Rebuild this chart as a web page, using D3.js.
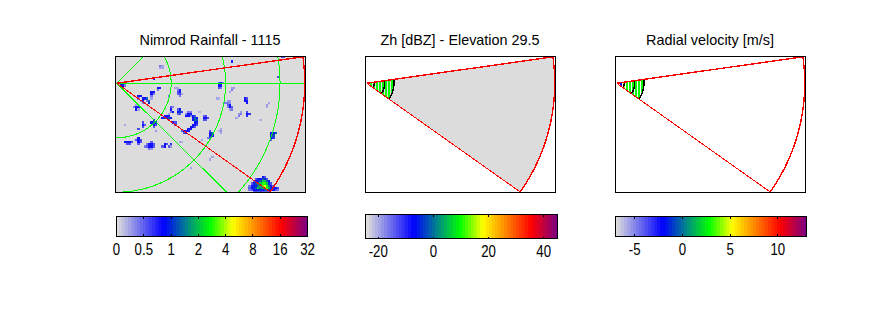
<!DOCTYPE html>
<html>
<head>
<meta charset="utf-8">
<script src="https://cdn.jsdelivr.net/npm/d3@7"></script>
<style>
	body { margin: 0; background: #fff; }
	svg { display: block; }
	text { font-family: "Liberation Sans", Arial, sans-serif; fill: #000; }
</style>
</head>
<body>
<div id="chart"></div>
<script>
// radar coverage, km from the radar
var maxRange = 172.7;
var sectorAngles = [8.1, -35.3];
var ringRanges = [50, 100, 150];
var spokeAngles = [-44.7, 0, 45.3];
var sweepRanges = [1.5, 7, 16.5, 25];

var titles = ["Nimrod Rainfall - 1115", "Zh [dBZ] - Elevation 29.5", "Radial velocity [m/s]"];

var rainTicks = [0, 0.5, 1, 2, 4, 8, 16, 32];
var zhTicks = [-20, 0, 20, 40];
var zhDomain = [-24.6, 45];
var velTicks = [-5, 0, 5, 10];
var velDomain = [-7, 13];

// one stripe per range bin of the sweep
var sweepX = [1, 3.8, 6.5, 9.3, 12, 14.8, 17.5, 20.3, 23];
var zhValues = [-24, 9.5, 9.5, 9.5, 9.5, 9.5, 9.5, 9.5, 9.5];
var velValues = [9.5, -2, 4.2, 2.8, 2.8, 2.8, 2.8, 2.8, 2.8];

// rainfall cells: x km, y km, mm/h
var rainCells = [
	[0,0,.25],[4,0,.25],[10,0,.25],[4,-2,.8],[6,-2,.8],[8,-2,.4],
	[20,-12,.8],[22,-12,.8],[24,-14,.8],[20,-14,.4],[26,-14,.8],[28,-14,1.3],[24,-16,.8],[28,-16,.4],[30,-16,1.3],[30,-18,1],[22,-16,.4],[24,-18,.4],[26,-18,.25],
	[18,-22,.8],[20,-22,.8],[18,-24,.8],[16,-22,.4],[20,-24,.25],[18,-20,.25],
	[32,-8,.8],[34,-8,.8],[32,-10,.8],[32,-12,.4],[34,-10,.4],[32,-14,.25],[38,-4,.8],[40,-4,.8],[38,-6,.4],
	[42,16,.25],[40,16,.4],[42,14,.25],[40,14,.25],[34,4,.8],[106,20,.8],[148,6,.6],[152,24,.6],[154,24,.6],[48,-12,.5],[54,-4,.25],
	[56,-6,.4],[58,-6,.8],[56,-8,.6],[58,-8,.8],[56,-10,.5],[58,-10,.6],[58,-12,.4],[56,-4,.25],[60,-10,.25],
	[94,-2,.8],[96,-2,.8],[94,0,.5],[96,0,.8],[98,0,.4],[94,-4,.6],[96,-4,.4],
	[106,-4,.25],[108,-4,.3],[106,-6,.4],[104,-8,.25],[92,-14,.25],[94,-14,.2],
	[102,-16,.3],[104,-16,.3],[100,-18,.4],[102,-18,.4],[104,-18,.3],[102,-20,.5],[104,-20,.8],[102,-22,.4],[104,-22,.8],[106,-22,.5],[106,-24,.4],[104,-24,.3],
	[118,-14,.8],[120,-14,.6],[118,-16,.8],[120,-16,.8],[120,-18,.8],
	[140,-18,.25],[138,-20,.3],[138,-22,.25],
	[120,-26,.6],[120,-28,.8],[122,-28,.7],[120,-30,.7],[114,-26,.25],[112,-28,.3],[114,-28,.4],[112,-30,.4],[110,-32,.25],
	[50,-22,.5],[52,-22,.4],[50,-24,.8],[50,-26,.4],[52,-26,.8],[48,-28,.25],
	[56,-24,.5],[58,-24,.8],[56,-26,.8],[58,-26,1.2],[60,-26,.7],[56,-28,.5],[58,-28,.6],
	[44,-30,.8],[46,-30,.8],[48,-30,.8],[42,-32,.8],[44,-32,1.2],[46,-32,.8],[48,-32,1.3],[50,-32,.8],[48,-34,.6],[52,-36,.8],[54,-36,.6],[54,-38,.5],
	[66,-28,.8],[68,-28,.8],[64,-30,.8],[66,-30,.8],[68,-30,.4],[70,-30,.8],[72,-30,.6],[70,-32,.8],[72,-32,1.3],[74,-32,.8],[70,-34,.8],[72,-34,1.5],[74,-34,1.2],
	[72,-36,.8],[74,-36,.8],[70,-38,.8],[72,-38,.8],[74,-38,.6],[68,-40,.8],[70,-40,.8],[72,-40,.5],[66,-42,.8],[68,-42,.8],[62,-44,.8],[64,-44,.8],[66,-44,.8],
	[62,-46,.6],[64,-46,.8],[60,-44,.5],[68,-26,.4],[64,-28,.4],[66,-26,.4],
	[80,-30,.5],[82,-30,.6],[80,-32,.8],[82,-32,.8],[84,-32,.6],[80,-34,.6],[82,-34,.5],[76,-26,.2],
	[34,-34,.8],[32,-36,.8],[34,-36,1.5],[36,-36,.8],[34,-38,.8],[36,-38,.6],[34,-40,.5],
	[24,-36,.6],[24,-38,.8],[26,-38,.5],[24,-40,.6],[8,-38,.25],[20,-42,.6],[36,-44,.3],
	[86,-44,.6],[86,-46,.8],[88,-46,1.3],[86,-48,.8],[88,-48,.8],[86,-50,.5],[84,-50,.4],
	[96,-42,.25],[96,-44,.3],[94,-44,.2],[96,-46,.25],[78,-52,.25],[76,-54,.25],
	[144,-46,.8],[142,-46,.8],[146,-46,1.3],[142,-48,.8],[144,-48,1.2],[142,-50,.8],[144,-50,.7],[142,-52,.5],[132,-34,.2],
	[8,-54,.8],[10,-54,.8],[12,-54,.8],[14,-54,.6],[10,-56,.6],[12,-56,.6],
	[20,-50,.8],[20,-52,.8],[18,-52,.6],[22,-52,.6],[20,-54,.8],[22,-54,.6],[20,-56,.5],
	[28,-56,.4],[32,-54,.5],[30,-56,.8],[32,-56,.8],[34,-56,.6],[26,-58,.4],[28,-58,.5],[30,-58,.8],[32,-58,.8],[30,-60,.4],[34,-58,.5],[32,-60,.3],
	[44,-56,.8],[46,-56,.6],[44,-58,.8],[42,-58,.5],[50,-56,.7],[48,-58,.5],[50,-58,.3],[58,-54,.25],[60,-54,.2],
	[88,-68,.25],[86,-70,.25],[68,-78,.25],
	[134,-86,.8],[136,-86,.6],
	[128,-88,.6],[130,-88,.8],[132,-88,.8],[134,-88,1.3],[136,-88,1],[138,-88,.6],
	[126,-90,.5],[128,-90,.8],[130,-90,.8],[132,-90,1.3],[134,-90,2],[136,-90,2],[138,-90,1.3],[140,-90,.8],
	[124,-92,.5],[126,-92,.8],[128,-92,1.2],[130,-92,1.5],[132,-92,2],[134,-92,3],[136,-92,3],[138,-92,2],[140,-92,1],[142,-92,.6],
	[122,-94,.4],[124,-94,.8],[126,-94,1],[128,-94,.8],[130,-94,1.5],[132,-94,2],[134,-94,3.5],[136,-94,4.5],[138,-94,3],[140,-94,1.5],[142,-94,.8],[144,-94,.5],
	[122,-96,.5],[124,-96,.8],[126,-96,.8],[128,-96,1.3],[130,-96,2],[132,-96,1.6],[134,-96,2],[136,-96,4],[138,-96,3],[140,-96,2],[142,-96,1],[144,-96,.8],[146,-96,.8],[148,-96,.6],
	[122,-98,.4],[124,-98,.6],[126,-98,.8],[128,-98,.8],[130,-98,1],[132,-98,1],[134,-98,.8],[136,-98,1.3],[138,-98,1.3],[140,-98,1],[142,-98,.8],[144,-98,.8],[146,-98,.5],[148,-98,.4],
	[126,-100,.5],[128,-100,.6],[130,-100,.5],[132,-100,.6],[134,-100,.5],[136,-100,.5],[138,-100,.5],[140,-100,.5]
];

var width = 889, height = 333;
var mapW = 190, mapH = 136, mapTop = 56.5;
var steps = 64;

// grey - blue - green - yellow - red - purple
var palette = d3.scaleLinear()
	.domain([0, 0.245, 0.37, 0.49, 0.61, 0.865, 1])
	.range(["#dcdcdc", "#0000ff", "#008888", "#00ff00", "#ffff00", "#ff0000", "#800080"]);

function stepColor(t) {
	var i = Math.max(0, Math.min(steps - 1, Math.floor(t * steps)));
	return palette(i / (steps - 1));
}

var rainPos = d3.scaleLinear()
	.domain(rainTicks)
	.range(d3.range(rainTicks.length).map(function(i) { return i / (rainTicks.length - 1); }));

var svg = d3.select("#chart").append("svg")
	.attr("width", width)
	.attr("height", height);

// gnuplot's font is taller and narrower than Liberation Sans
function squeezedText(tx, ty, size, squeeze, label) {
	svg.append("text")
		.attr("transform", "translate(" + tx + "," + ty + ") scale(" + squeeze + ",1)")
		.attr("text-anchor", "middle")
		.attr("font-size", size)
		.text(label);
}

var panels = [
	{ left: 115.5, barLeft: 116.5, barW: 191, barTop: 216.5, barH: 19.5, labelY: 255, ticks: rainTicks, pos: rainPos, sweep: null, grey: false, rain: true },
	{ left: 365.5, barLeft: 365.5, barW: 192, barTop: 214.5, barH: 24, labelY: 256.5, ticks: zhTicks, pos: d3.scaleLinear().domain(zhDomain).range([0, 1]), sweep: zhValues, grey: true, rain: false },
	{ left: 615.5, barLeft: 615.5, barW: 191, barTop: 216.5, barH: 19.5, labelY: 255, ticks: velTicks, pos: d3.scaleLinear().domain(velDomain).range([0, 1]), sweep: velValues, grey: false, rain: false }
];

panels.forEach(function(p, n) {
	var x = d3.scaleLinear().domain([-1.1, 173.4]).range([p.left, p.left + mapW]);
	var y = d3.scaleLinear().domain([24.6, -100.3]).range([mapTop, mapTop + mapH]);

	function polar(r, deg) {
		var a = deg * Math.PI / 180;
		return [r * Math.cos(a), r * Math.sin(a)];
	}
	var line = d3.line()
		.x(function(d) { return x(d[0]); })
		.y(function(d) { return y(d[1]); });

	function arcPoints(r, a0, a1) {
		var count = Math.max(8, Math.round(Math.abs(a1 - a0) * 1.5));
		return d3.range(count + 1).map(function(i) { return polar(r, a0 + (a1 - a0) * i / count); });
	}
	function wedge(r) {
		return [[0, 0]].concat(arcPoints(r, sectorAngles[0], sectorAngles[1])).concat([[0, 0]]);
	}

	var g = svg.append("g").attr("shape-rendering", "crispEdges");

	var clipId = "frame" + n, sweepId = "sweep" + n;
	var defs = g.append("defs");
	defs.append("clipPath").attr("id", clipId).append("rect")
		.attr("x", p.left).attr("y", mapTop).attr("width", mapW).attr("height", mapH);
	defs.append("clipPath").attr("id", sweepId).append("path")
		.attr("d", line(wedge(sweepRanges[3])));

	var inner = g.append("g").attr("clip-path", "url(#" + clipId + ")");

	if (p.rain) {
		inner.append("rect")
			.attr("x", p.left).attr("y", mapTop).attr("width", mapW).attr("height", mapH)
			.attr("fill", "#dcdcdc");
		inner.selectAll("rect.cell")
			.data(rainCells)
			.enter().append("rect")
			.attr("class", "cell")
			.attr("x", function(d) { return x(d[0] - 1); })
			.attr("y", function(d) { return y(d[1] + 1); })
			.attr("width", x(2) - x(0))
			.attr("height", y(0) - y(2))
			.attr("fill", function(d) { return stepColor(rainPos(d[2])); });
		// range rings and bearings
		ringRanges.forEach(function(r) {
			inner.append("path")
				.attr("d", line(arcPoints(r, -180, 180)))
				.attr("fill", "none").attr("stroke", "#00ff00");
		});
		spokeAngles.forEach(function(a) {
			inner.append("path")
				.attr("d", line([[0, 0], polar(260, a)]))
				.attr("fill", "none").attr("stroke", "#00ff00");
		});
	}

	if (p.grey) {
		inner.append("path")
			.attr("d", line(wedge(maxRange)))
			.attr("fill", "#dcdcdc");
	}

	if (p.sweep) {
		inner.append("g").attr("clip-path", "url(#" + sweepId + ")")
			.selectAll("rect")
			.data(sweepX)
			.enter().append("rect")
			.attr("x", function(d) { return x(d - 0.9); })
			.attr("y", y(20))
			.attr("width", 2)
			.attr("height", y(-30) - y(20))
			.attr("fill", function(d, i) { return stepColor(p.pos(p.sweep[i])); });
		sweepRanges.forEach(function(r) {
			inner.append("path")
				.attr("d", line(arcPoints(r, sectorAngles[0], sectorAngles[1])))
				.attr("fill", "none").attr("stroke", "#000").attr("stroke-width", 1.5);
		});
	}

	// coverage outline
	inner.append("path")
		.attr("d", line([[0, 0], polar(maxRange, sectorAngles[0])]))
		.attr("fill", "none").attr("stroke", "#ff0000").attr("stroke-width", 1.4);
	inner.append("path")
		.attr("d", line([[0, 0], polar(maxRange, sectorAngles[1])]))
		.attr("fill", "none").attr("stroke", "#ff0000");
	inner.append("path")
		.attr("d", line(arcPoints(maxRange, sectorAngles[0], sectorAngles[1])))
		.attr("fill", "none").attr("stroke", "#ff0000").attr("stroke-width", 1.4);

	g.append("rect")
		.attr("x", p.left).attr("y", mapTop).attr("width", mapW).attr("height", mapH)
		.attr("fill", "none").attr("stroke", "#000");

	squeezedText(p.left + mapW / 2 - 0.5, 45, 15, 0.96, titles[n]);

	// colour bar
	var bar = d3.scaleLinear().domain([0, 1]).range([p.barLeft, p.barLeft + p.barW]);
	var bg = svg.append("g").attr("shape-rendering", "crispEdges");
	bg.selectAll("rect")
		.data(d3.range(steps))
		.enter().append("rect")
		.attr("x", function(d) { return bar(d / steps); })
		.attr("y", p.barTop)
		.attr("width", p.barW / steps + 0.5)
		.attr("height", p.barH)
		.attr("fill", function(d) { return palette(d / (steps - 1)); });
	bg.append("rect")
		.attr("x", p.barLeft).attr("y", p.barTop).attr("width", p.barW).attr("height", p.barH)
		.attr("fill", "none").attr("stroke", "#000");
	p.ticks.forEach(function(t) {
		var tx = bar(p.pos(t));
		bg.append("path")
			.attr("d", "M" + tx + "," + p.barTop + "v2M" + tx + "," + (p.barTop + p.barH) + "v-2")
			.attr("stroke", "#000");
		squeezedText(tx, p.labelY, 16.5, 0.8, t);
	});
});
</script>
</body>
</html>
